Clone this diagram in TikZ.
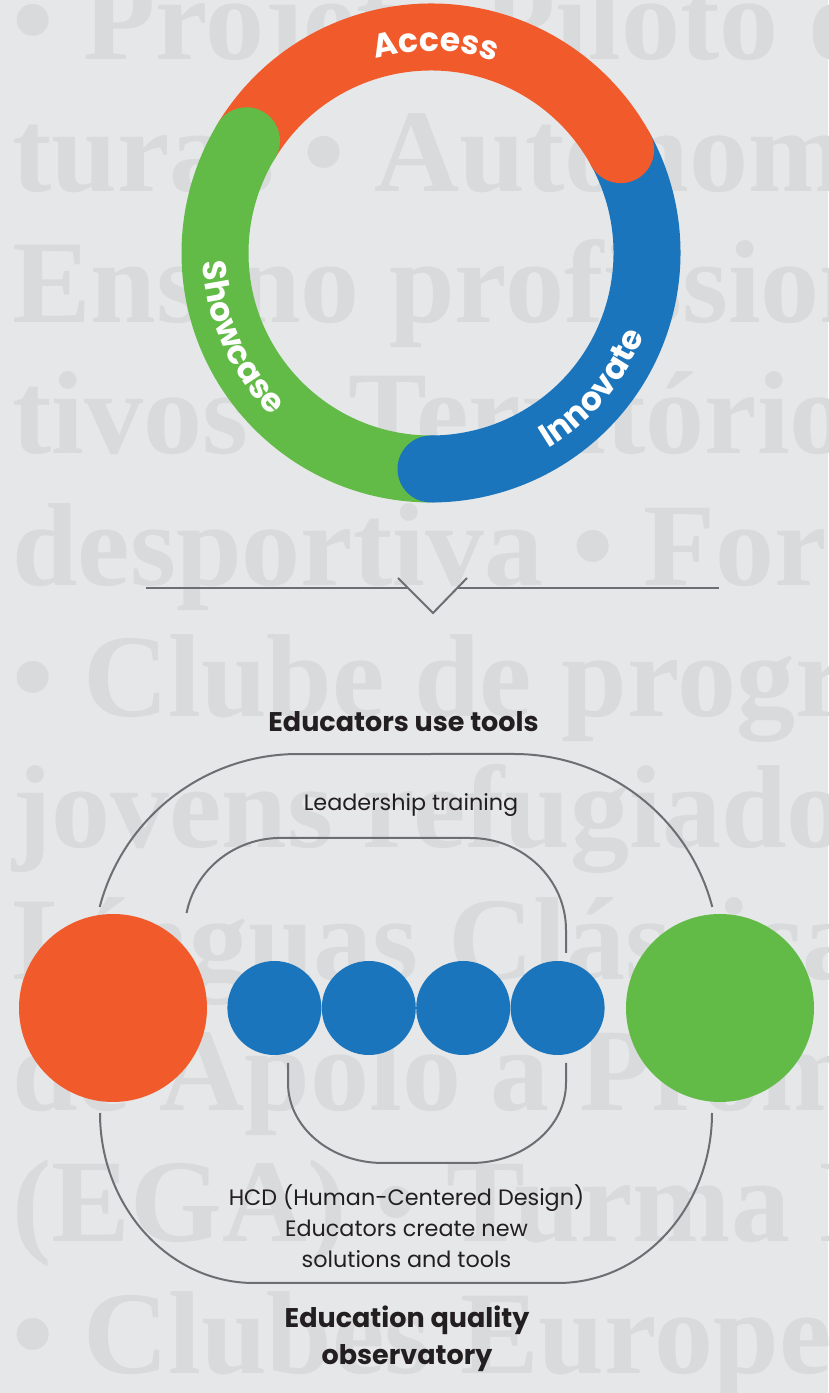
\documentclass[tikz,border=0pt]{standalone}
\usepackage{fontspec}
\usetikzlibrary{positioning, decorations.text}

\newfontfamily\labelfont{Poppins}
\newfontfamily\bgfont{Liberation Serif}
\newcommand\ringtext{\labelfont\bfseries\fontsize{33}{33}\selectfont}

\definecolor{bgcol}{HTML}{E6E7E8}
\definecolor{wmcol}{HTML}{D9DADC}
\definecolor{orangeA}{HTML}{F15A2B}
\definecolor{greenA}{HTML}{62BB46}
\definecolor{blueA}{HTML}{1B75BC}
\definecolor{linegray}{HTML}{6D6E71}
\definecolor{textdark}{HTML}{231F20}

\tikzset{
  wmtext/.style={anchor=base west, inner sep=0pt, text=wmcol, font=\bgfont\bfseries\fontsize{118}{118}\selectfont},
  segment/.style={line width=67pt},
  ringlabel/.style={decorate, decoration={text along path, text align=center, text color=white}},
  bracket/.style={draw=linegray, line width=2pt},
  bigdot/.style={circle, minimum size=188pt, inner sep=0pt},
  tooldot/.style={circle, fill=blueA, minimum size=94pt, inner sep=0pt},
  heading/.style={text=textdark, align=center, font=\labelfont\bfseries\fontsize{27}{37}\selectfont},
  caption/.style={text=textdark, align=center, font=\labelfont\fontsize{22.3}{31}\selectfont},
}

\begin{document}
\begin{tikzpicture}[x=1pt, y=1pt]

  % Background and watermark
  \fill[bgcol] (0,0) rectangle (828,1393);
  \clip (0,0) rectangle (828,1393);
  \foreach \row/\words in {0/{• Projeto Piloto de}, 1/{turas • Autonomia},
      2/{Ensino profissional}, 3/{tivos • Territórios}, 4/{desportiva • Formação},
      5/{• Clube de programação}, 6/{jovens refugiados}, 7/{Línguas Clássicas},
      8/{de Apolo a Prometeu}, 9/{(EGA) • Turma Mais}, 10/{• Clubes Europeus}}
    \node[wmtext] (wm\row) at (12,{1333-131.3*\row}) {\words};

  % Cycle ring
  \coordinate (ring) at (431,1140);
  \draw[segment, orangeA] ([shift={(148.7:216)}]ring) arc[start angle=148.7, end angle=28.6, radius=216];
  \draw[segment, blueA] ([shift={(28.6:216)}]ring) arc[start angle=28.6, end angle=-90, radius=216];
  \draw[segment, greenA] ([shift={(270:216)}]ring) arc[start angle=270, end angle=148.7, radius=216];

  % Rounded ends
  \fill[greenA] ([shift={(148.7:216)}]ring) circle[radius=33.5];
  \fill[orangeA] ([shift={(28.6:216)}]ring) circle[radius=33.5];
  \fill[blueA] ([shift={(270:216)}]ring) circle[radius=33.5];

  % Ring labels
  \path[ringlabel, decoration={text={|\ringtext|Access}}]
    ([shift={(129.6:202)}]ring) arc[start angle=129.6, end angle=47.6, radius=202];
  \path[ringlabel, decoration={text={|\ringtext|Showcase}}]
    ([shift={(164:228)}]ring) arc[start angle=164, end angle=244, radius=228];
  \path[ringlabel, decoration={text={|\ringtext|Innovate}}]
    ([shift={(-80:228)}]ring) arc[start angle=-80, end angle=0, radius=228];

  % Divider with chevron
  \coordinate (ruleL) at (146,805);
  \coordinate (ruleR) at (719,805);
  \coordinate (chevL) at (398,815);
  \coordinate (chevB) at (433,780);
  \coordinate (chevR) at (467,815);
  \draw[linegray, line width=2.6pt] (ruleL) -- (408,805);
  \draw[linegray, line width=2.6pt] (458,805) -- (ruleR);
  \draw[linegray, line width=2pt] (chevL) -- (chevB) -- (chevR);

  % Circles
  \node[bigdot, fill=orangeA] (access) at (113,385) {};
  \node[tooldot, right=20pt of access] (tool1) {};
  \node[tooldot, right=0pt of tool1] (tool2) {};
  \node[tooldot, right=0pt of tool2] (tool3) {};
  \node[tooldot, right=0pt of tool3] (tool4) {};
  \node[bigdot, fill=greenA, right=21pt of tool4] (showcase) {};

  % Brackets
  \draw[bracket] (99.7,486) arc[start angle=165.3, end angle=90, radius=205]
    -- (514,639) arc[start angle=90, end angle=14.7, radius=205];
  \draw[bracket] (186.6,480) arc[start angle=169.4, end angle=90, x radius=96, y radius=92]
    -- (470,555) arc[start angle=90, end angle=0, x radius=96, y radius=92] -- (566,440);
  \draw[bracket] (288,330) -- (288,310) arc[start angle=180, end angle=270, x radius=95, y radius=80]
    -- (471,230) arc[start angle=270, end angle=360, x radius=95, y radius=80] -- (566,330);
  \draw[bracket] (100,280) arc[start angle=180, end angle=270, x radius=154, y radius=170]
    -- (558,110) arc[start angle=270, end angle=360, x radius=154, y radius=170];

  % Labels
  \node[heading] (uses) at (403.5,671) {Educators use tools};
  \node[caption] (lead) at (411,588) {Leadership training};
  \node[caption] (hcd) at (406.5,167) {HCD (Human-Centered Design)\\Educators create new\\solutions and tools};
  \node[heading] (observ) at (407,54.5) {Education quality\\observatory};

\end{tikzpicture}
\end{document}
